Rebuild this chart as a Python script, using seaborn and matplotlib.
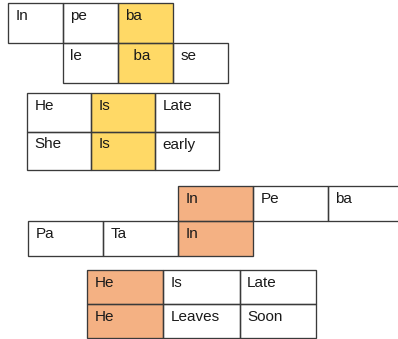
import numpy as np
import matplotlib
matplotlib.use("Agg")
import matplotlib.pyplot as plt
from matplotlib.colors import ListedColormap
from matplotlib.patches import Rectangle
import seaborn as sns

# cell texts (None = no cell) and fill codes (0 white, 1 yellow, 2 orange)
block1_text = [["In", "pe", "ba", None],
               [None, "le", "  ba", "se"]]
block1_fill = [[0, 0, 1, np.nan],
               [np.nan, 0, 1, 0]]

block2_text = [["He", "Is", "Late"],
               ["She", "Is", "early"]]
block2_fill = [[0, 1, 0],
               [0, 1, 0]]

block3_text = [[None, None, "In", "Pe", "ba"],
               ["Pa", "Ta", "In", None, None]]
block3_fill = [[np.nan, np.nan, 2, 0, 0],
               [0, 0, 2, np.nan, np.nan]]

block4_text = [["He", "Is", "Late"],
               ["He", "Leaves", "Soon"]]
block4_fill = [[2, 0, 0],
               [2, 0, 0]]

W, H = 398, 339
sns.set_theme(style="white")
plt.rcParams['font.family'] = ['Liberation Sans', 'DejaVu Sans']
fig = plt.figure(figsize=(W / 100, H / 100), dpi=100)
fig.patch.set_facecolor("white")

cmap = ListedColormap(["white", "#FFD966", "#F4B183"])

# (texts, fills, left, top, right, bottom) in pixels
blocks = [
    (block1_text, block1_fill, 8, 3, 228, 83),
    (block2_text, block2_fill, 27, 93, 219, 170),
    (block3_text, block3_fill, 28, 186, 403, 256),
    (block4_text, block4_fill, 87, 270, 316, 338),
]

for texts, fills, x0, y0, x1, y1 in blocks:
    fills = np.array(fills, dtype=float)
    nrow, ncol = fills.shape
    ax = fig.add_axes([x0 / W, 1 - y1 / H, (x1 - x0) / W, (y1 - y0) / H])
    sns.heatmap(fills, mask=np.isnan(fills), cmap=cmap, vmin=-0.5, vmax=2.5,
                cbar=False, linewidths=0,
                xticklabels=False, yticklabels=False, ax=ax)
    ax.set_axis_off()
    cw = (x1 - x0) / ncol
    ch = (y1 - y0) / nrow
    for i in range(nrow):
        for j in range(ncol):
            t = texts[i][j]
            if t is None:
                continue
            ax.add_patch(Rectangle((j, i), 1, 1, fill=False, edgecolor="#3a3a3a",
                                   linewidth=0.95, clip_on=False))
            ax.text(j + 7.5 / cw, i + 17 / ch, t, fontsize=11,
                    color="#1a1a1a", ha="left", va="baseline")

fig.savefig("out.png", dpi=100, facecolor="white")
